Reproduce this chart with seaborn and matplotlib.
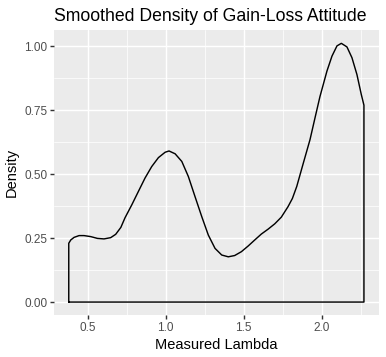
import numpy as np
import pandas as pd
import seaborn as sns
from matplotlib import pyplot as plt

# density curve (Measured Lambda vs Density)
lam = [0.378, 0.391, 0.412, 0.444, 0.476, 0.519, 0.562, 0.604, 0.647, 0.679,
       0.712, 0.739, 0.782, 0.824, 0.867, 0.910, 0.953, 0.996, 1.021, 1.060,
       1.103, 1.145, 1.188, 1.231, 1.273, 1.316, 1.359, 1.401, 1.442, 1.485,
       1.528, 1.571, 1.613, 1.656, 1.699, 1.741, 1.784, 1.812, 1.840, 1.882,
       1.925, 1.957, 1.989, 2.034, 2.066, 2.098, 2.126, 2.162, 2.194, 2.226,
       2.254, 2.271]
dens = [0.230, 0.243, 0.253, 0.260, 0.260, 0.256, 0.249, 0.247, 0.252, 0.265,
        0.292, 0.330, 0.380, 0.432, 0.485, 0.530, 0.565, 0.586, 0.591, 0.580,
        0.550, 0.491, 0.412, 0.334, 0.262, 0.210, 0.184, 0.177, 0.182, 0.197,
        0.219, 0.243, 0.266, 0.285, 0.306, 0.332, 0.373, 0.405, 0.452, 0.543,
        0.635, 0.720, 0.804, 0.904, 0.962, 1.002, 1.012, 0.998, 0.956, 0.890,
        0.812, 0.770]
x_ticks = [0.5, 1.0, 1.5, 2.0]
x_labels = ["0.5", "1.0", "1.5", "2.0"]
y_ticks = [0.0, 0.25, 0.5, 0.75, 1.0]
y_labels = ["0.00", "0.25", "0.50", "0.75", "1.00"]

sns.set_theme(style="darkgrid", rc={
    "axes.facecolor": "#EBEBEB",
    "grid.color": "white",
    "axes.edgecolor": "none",
})
plt.rcParams['font.family'] = ['Liberation Sans', 'DejaVu Sans']

# closed outline like geom_density
outline = pd.DataFrame({
    "x": [lam[0]] + lam + [lam[-1], lam[0]],
    "y": [0.0] + dens + [0.0, 0.0],
})

fig = plt.figure(figsize=(386 / 96, 357 / 96), dpi=96)
ax = fig.add_axes([54 / 386, 1 - 315 / 357, (378.7 - 54) / 386, (315 - 30.4) / 357])

sns.lineplot(data=outline, x="x", y="y", sort=False, estimator=None,
             color="black", linewidth=1.07, ax=ax)
for ln in ax.lines:
    ln.set_solid_joinstyle("round")

xr = lam[-1] - lam[0]
ax.set_xlim(lam[0] - 0.05 * xr, lam[-1] + 0.05 * xr)
yr = max(dens)
ax.set_ylim(-0.05 * yr, yr * 1.05)

ax.set_xticks(x_ticks)
ax.set_xticklabels(x_labels)
ax.set_yticks(y_ticks)
ax.set_yticklabels(y_labels)
ax.set_xticks([0.75, 1.25, 1.75, 2.25], minor=True)
ax.set_yticks([0.125, 0.375, 0.625, 0.875], minor=True)
ax.grid(which="major", color="white", linewidth=1.07)
ax.grid(which="minor", color="white", linewidth=0.53)
ax.tick_params(which="major", length=3.67 * 0.75, width=1.07, color="#333333",
               labelcolor="#4D4D4D", labelsize=8.8, pad=2.2, bottom=True, left=True)
ax.tick_params(which="minor", length=0)
for s in ax.spines.values():
    s.set_visible(False)

ax.set_xlabel("Measured Lambda", fontsize=11, color="black", labelpad=3)
ax.set_ylabel("Density", fontsize=11, color="black", labelpad=4)
ax.set_title("Smoothed Density of Gain-Loss Attitude", fontsize=13.2, loc="left",
             color="black", pad=7)

fig.savefig("out.png", dpi=96)
